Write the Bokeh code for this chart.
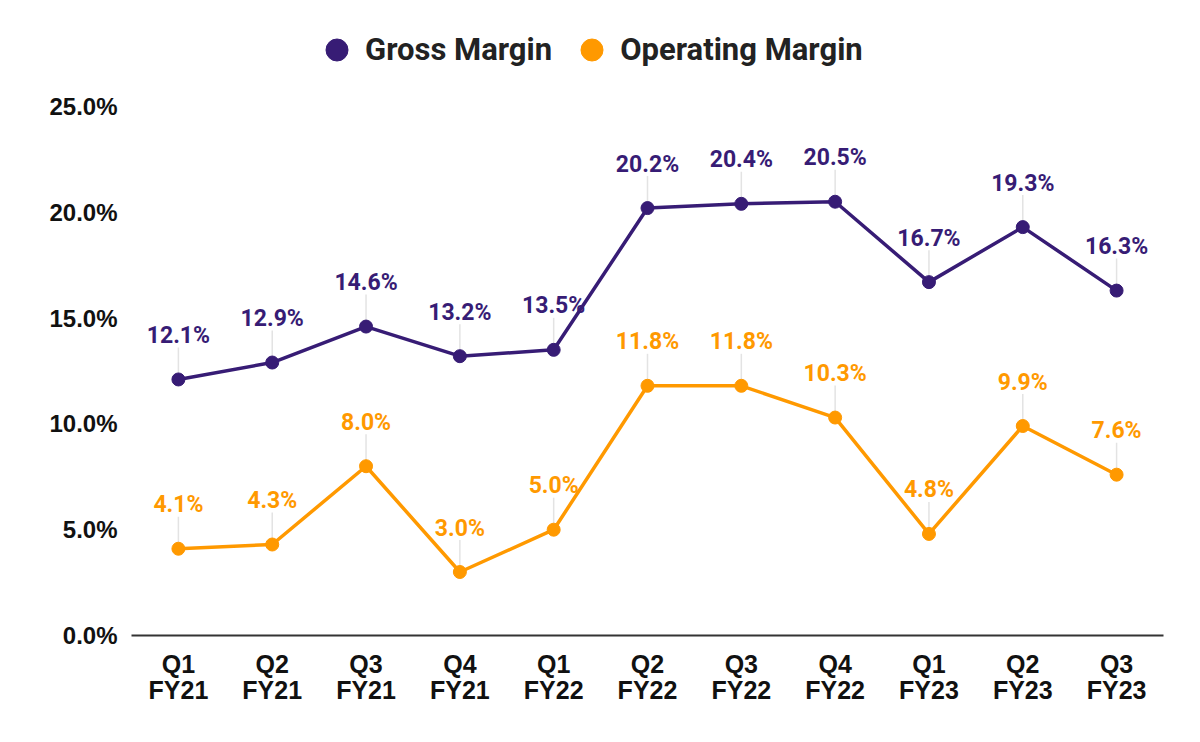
from bokeh.plotting import figure
from bokeh.models import (ColumnDataSource, FixedTicker, PrintfTickFormatter,
                          Legend, LegendItem)
from bokeh.core.properties import value
from bokeh.embed import file_html
from bokeh.resources import INLINE

quarters = ["Q1\nFY21", "Q2\nFY21", "Q3\nFY21", "Q4\nFY21", "Q1\nFY22", "Q2\nFY22",
            "Q3\nFY22", "Q4\nFY22", "Q1\nFY23", "Q2\nFY23", "Q3\nFY23"]
gross_margin = [12.1, 12.9, 14.6, 13.2, 13.5, 20.2, 20.4, 20.5, 16.7, 19.3, 16.3]
operating_margin = [4.1, 4.3, 8.0, 3.0, 5.0, 11.8, 11.8, 10.3, 4.8, 9.9, 7.6]
y_ticks = [0, 5, 10, 15, 20, 25]

PURPLE = "#371c75"
ORANGE = "#ff9900"

W, H = 1184, 726
TOP, BOTTOM = 20, 91
px_per_unit = 529 / 25.0
frame_h = H - TOP - BOTTOM
y_end = frame_h / px_per_unit

p = figure(x_range=quarters, y_range=(0, y_end), width=W, height=H,
           output_backend="svg", toolbar_location=None,
           min_border_left=131, min_border_right=21, min_border_top=TOP,
           min_border_bottom=BOTTOM)
p.outline_line_color = None
p.grid.grid_line_color = None
p.background_fill_color = "white"

series = [("Gross Margin", gross_margin, PURPLE),
          ("Operating Margin", operating_margin, ORANGE)]
items = []
for name, vals, color in series:
    src = ColumnDataSource(dict(
        x=quarters, y=vals,
        y0=[v + 5 / px_per_unit for v in vals],
        y1=[v + 32 / px_per_unit for v in vals],
        lab=[f"{v:.1f}%" for v in vals]))
    p.segment(x0="x", x1="x", y0="y0", y1="y1", source=src,
              line_color="#e3e3e3", line_width=1.5)
    p.line("x", "y", source=src, line_color=color, line_width=3.5)
    r = p.scatter("x", "y", source=src, size=13, fill_color=color,
                  line_color=color)
    p.text("x", "y", text="lab", source=src, text_color=color,
           text_font=value("Roboto"), text_font_style="bold",
           text_font_size="23px", text_align="center",
           text_baseline="middle", y_offset=-44)
    items.append(LegendItem(label=name, renderers=[r]))

legend = Legend(items=items, orientation="horizontal",
                location=(178, frame_h - 57),
                label_text_font="Roboto", label_text_font_style="bold",
                label_text_font_size="31px", label_text_color="#222222",
                glyph_width=55, glyph_height=55, label_standoff=1,
                spacing=12, padding=0, margin=0, border_line_color=None,
                background_fill_alpha=0)
p.add_layout(legend, "center")

p.yaxis.ticker = FixedTicker(ticks=y_ticks)
p.yaxis.formatter = PrintfTickFormatter(format="%.1f%%")
p.yaxis.axis_line_color = None
p.yaxis.major_tick_line_color = None
p.yaxis.minor_tick_line_color = None
p.yaxis.major_label_text_font = "Liberation Sans"
p.yaxis.major_label_text_font_style = "bold"
p.yaxis.major_label_text_font_size = "24px"
p.yaxis.major_label_text_color = "#111111"
p.yaxis.major_label_standoff = 8

p.xaxis.axis_line_color = "#333333"
p.xaxis.axis_line_width = 2
p.xaxis.major_tick_line_color = None
p.xaxis.minor_tick_line_color = None
p.xaxis.major_label_text_font = "Liberation Sans"
p.xaxis.major_label_text_font_style = "bold"
p.xaxis.major_label_text_font_size = "25px"
p.xaxis.major_label_text_color = "#111111"
p.xaxis.major_label_standoff = 8
p.xaxis.major_label_text_line_height = 0.95

open("out.html", "w").write(file_html(p, INLINE))
